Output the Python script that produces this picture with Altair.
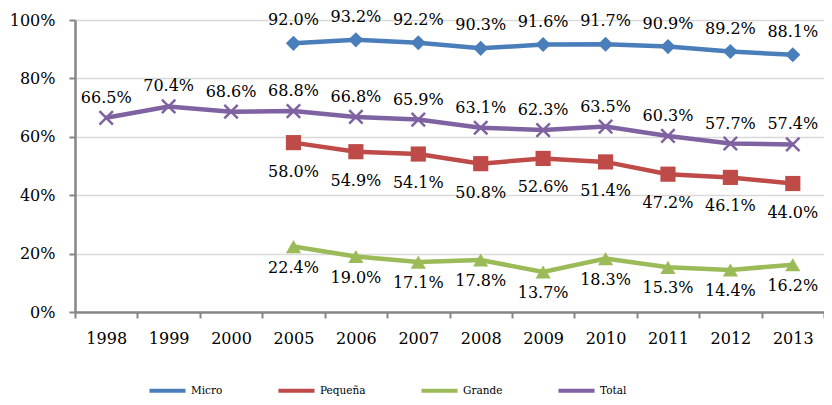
import altair as alt
import pandas as pd

years = ["1998", "1999", "2000", "2005", "2006", "2007", "2008", "2009", "2010", "2011", "2012", "2013"]
micro = [None, None, None, 92.0, 93.2, 92.2, 90.3, 91.6, 91.7, 90.9, 89.2, 88.1]
pequena = [None, None, None, 58.0, 54.9, 54.1, 50.8, 52.6, 51.4, 47.2, 46.1, 44.0]
grande = [None, None, None, 22.4, 19.0, 17.1, 17.8, 13.7, 18.3, 15.3, 14.4, 16.2]
total = [66.5, 70.4, 68.6, 68.8, 66.8, 65.9, 63.1, 62.3, 63.5, 60.3, 57.7, 57.4]

series_names = ["Micro", "Pequeña", "Grande", "Total"]
series_vals = [micro, pequena, grande, total]
colors = ["#4A7EBB", "#BE4B48", "#9BBB59", "#7F62A1"]

rows = []
for name, vals in zip(series_names, series_vals):
    for y, v in zip(years, vals):
        if v is not None:
            rows.append({"year": y, "series": name, "value": v / 100.0})
df = pd.DataFrame(rows)

FONT = "DejaVu Serif"

x_enc = alt.X("year:N", sort=years,
              scale=alt.Scale(type="band", paddingInner=0, paddingOuter=0),
              axis=alt.Axis(title=None, labelAngle=0, tickBand="extent", grid=False,
                            labelFont=FONT, labelFontSize=16, labelColor="#000000",
                            labelPadding=12, tickSize=6, tickWidth=2, tickColor="#868686",
                            domainColor="#868686", domainWidth=2.5))
y_enc = alt.Y("value:Q", scale=alt.Scale(domain=[0, 1]),
              axis=alt.Axis(title=None, format=".0%", values=[0, 0.2, 0.4, 0.6, 0.8, 1.0],
                            labelFont=FONT, labelFontSize=16, labelColor="#000000",
                            labelPadding=14, tickSize=6, tickWidth=2, tickColor="#868686",
                            domainColor="#868686", domainWidth=2.5,
                            grid=True, gridColor="#D9D9D9", gridWidth=1.5))

base = alt.Chart(df)

lines = base.mark_line(strokeWidth=4.5).encode(
    x=x_enc, y=y_enc,
    color=alt.Color("series:N", sort=series_names,
                    scale=alt.Scale(domain=series_names, range=colors),
                    legend=alt.Legend(title=None, orient="none", direction="horizontal",
                                      legendX=72, legendY=350, columns=4, columnPadding=47,
                                      symbolType="stroke", symbolSize=1300, symbolStrokeWidth=4,
                                      labelFont=FONT, labelFontSize=10.5, labelColor="#000000",
                                      labelOffset=3, padding=0))
)

shapes = {
    "Micro": ("diamond", 230, True),
    "Pequeña": ("square", 230, True),
    "Grande": ("triangle-up", 230, True),
    "Total": ("M-1,-1L1,1M-1,1L1,-1", 180, False),
}
label_dy = {"Micro": -23, "Pequeña": 29, "Grande": 21, "Total": -20}

layers = [lines]
for name, col in zip(series_names, colors):
    shape, size, filled = shapes[name]
    sub = base.transform_filter(alt.datum.series == name)
    if filled:
        pt = sub.mark_point(shape=shape, size=size, filled=True, fill=col, opacity=1, strokeWidth=0)
    else:
        pt = sub.mark_point(shape=shape, size=size, filled=False, stroke=col, strokeWidth=2.5, opacity=1)
    layers.append(pt.encode(x=alt.X("year:N", sort=years), y="value:Q"))
    txt = sub.mark_text(font=FONT, fontSize=16, color="#000000", dy=label_dy[name]).encode(
        x=alt.X("year:N", sort=years), y="value:Q",
        text=alt.Text("value:Q", format=".1%"))
    layers.append(txt)

chart = alt.layer(*layers).properties(
    width=749, height=292,
    autosize=alt.AutoSizeParams(type="none"),
    padding={"left": 67, "top": 12, "right": 0, "bottom": 85},
).configure_view(stroke=None).configure(background="#FFFFFF")

chart.save("out.html", embed_options={"renderer": "svg", "actions": False})
